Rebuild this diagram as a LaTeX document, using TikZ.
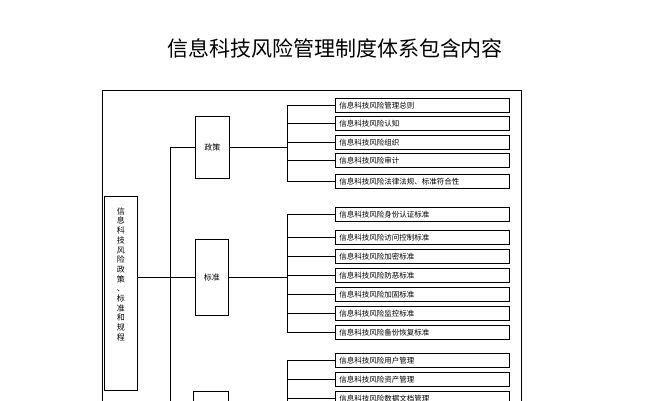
\documentclass[tikz,border=0pt]{standalone}
\usepackage{fontspec}
\setmainfont{Noto Sans CJK SC}
\begin{document}
\begin{tikzpicture}[x=1pt,y=-1pt,
  item/.style={draw,line width=0.9pt,minimum width=174pt,minimum height=14pt,inner sep=0pt,anchor=north west,font=\fontsize{7.5}{8}\selectfont,text width=166pt,align=left},
  cat/.style={draw,line width=0.9pt,inner sep=0pt,anchor=north west,font=\fontsize{8}{9}\selectfont},
  ln/.style={line width=0.9pt}]
\useasboundingbox (0,0) rectangle (667,400);
\clip (0,0) rectangle (667,400);
\node[font=\fontsize{21}{22}\selectfont] (title) at (335,48) {信息科技风险管理制度体系包含内容};
\draw[ln] (102,420) -- (102,90) -- (521,90) -- (521,420);
\node[cat,minimum width=33pt,minimum height=194pt,
  label={[anchor=north,yshift=-8pt,align=center,font=\fontsize{8}{9.7}\selectfont]north:{信\\息\\科\\技\\风\\险\\政\\策\\、\\标\\准\\和\\规\\程}}] (root) at (104,196) {};
\node[cat,minimum width=34pt,minimum height=62pt] (zc) at (195,116) {政策};
\node[cat,minimum width=33pt,minimum height=76pt] (bz) at (195,239) {标准};
\node[cat,minimum width=35pt,minimum height=60pt] (gc) at (193,391) {};
\coordinate (s1) at (zc.west -| 170,0);
\coordinate (s2) at (170,420);
\draw[ln] (s1) -- (s2);
\draw[ln] (s1) -- (zc.west);
\draw[ln] (bz.west) -- (bz.west -| root.east);
\foreach \t [count=\i] in {信息科技风险管理总则,信息科技风险认知,信息科技风险组织,信息科技风险审计,信息科技风险法律法规、标准符合性}{
  \pgfmathsetmacro\yy{{0,98,116,135,153,174}[\i]}
  \node[item] (a\i) at (335,\yy) {\t};
  \draw[ln] (a\i.west) -- ++(-48,0);
}
\draw[ln] (zc.east) -- (zc.east -| 287,0);
\foreach \t [count=\i] in {信息科技风险身份认证标准,信息科技风险访问控制标准,信息科技风险加密标准,信息科技风险防恶标准,信息科技风险加固标准,信息科技风险监控标准,信息科技风险备份恢复标准}{
  \pgfmathsetmacro\yy{{0,207,230,249,268,287,306,325}[\i]}
  \node[item] (b\i) at (335,\yy) {\t};
  \draw[ln] (b\i.west) -- ++(-48,0);
}
\draw[ln] (bz.east) -- (bz.east -| 287,0);
\foreach \t [count=\i] in {信息科技风险用户管理,信息科技风险资产管理,信息科技风险数据文档管理}{
  \pgfmathsetmacro\yy{{0,353,372,391}[\i]}
  \node[item] (c\i) at (335,\yy) {\t};
  \draw[ln] (c\i.west) -- ++(-48,0);
}
\coordinate (v1t) at (287,105);
\coordinate (v1b) at (287,181);
\coordinate (v2t) at (287,214);
\coordinate (v2b) at (287,332);
\coordinate (v3t) at (287,360);
\coordinate (v3b) at (287,420);
\draw[ln] (v1t) -- (v1b);
\draw[ln] (v2t) -- (v2b);
\draw[ln] (v3t) -- (v3b);
\end{tikzpicture}
\end{document}
